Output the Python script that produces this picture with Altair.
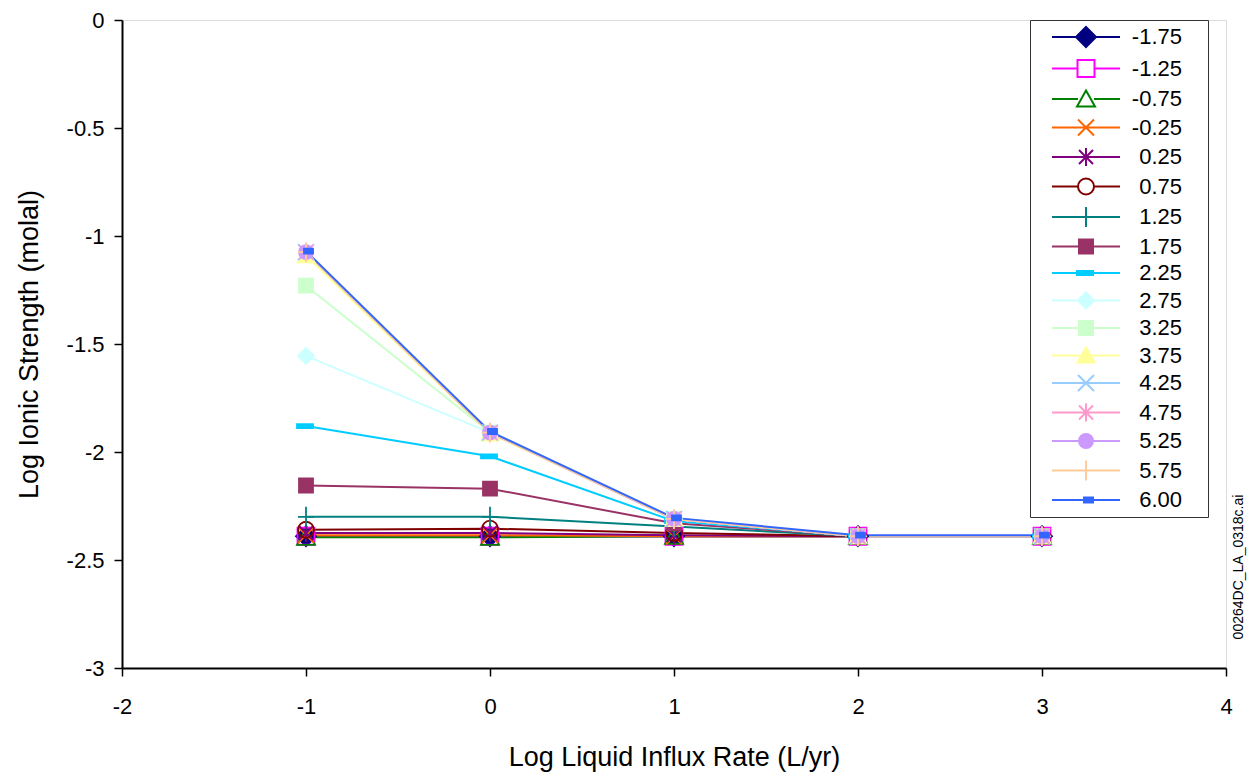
import altair as alt
import pandas as pd

# ---------------- data ----------------
x_values = [-1, 0, 1, 2, 3]
series = ["-1.75", "-1.25", "-0.75", "-0.25", "0.25", "0.75", "1.25", "1.75",
          "2.25", "2.75", "3.25", "3.75", "4.25", "4.75", "5.25", "5.75", "6.00"]

y_m175 = [-2.39, -2.39, -2.39, -2.39, -2.39]
y_m125 = [-2.39, -2.39, -2.39, -2.39, -2.39]
y_m075 = [-2.395, -2.395, -2.39, -2.39, -2.39]
y_m025 = [-2.385, -2.385, -2.39, -2.39, -2.39]
y_p025 = [-2.375, -2.375, -2.385, -2.39, -2.39]
y_p075 = [-2.36, -2.355, -2.375, -2.39, -2.39]
y_p125 = [-2.30, -2.30, -2.345, -2.39, -2.39]
y_p175 = [-2.155, -2.17, -2.33, -2.39, -2.39]
y_p225 = [-1.88, -2.02, -2.32, -2.39, -2.39]
y_p275 = [-1.555, -1.91, -2.31, -2.39, -2.39]
y_p325 = [-1.23, -1.91, -2.31, -2.39, -2.39]
y_p375 = [-1.09, -1.915, -2.31, -2.39, -2.39]
y_p425 = [-1.075, -1.91, -2.31, -2.39, -2.39]
y_p475 = [-1.075, -1.91, -2.31, -2.39, -2.39]
y_p525 = [-1.075, -1.91, -2.31, -2.39, -2.39]
y_p575 = [-1.075, -1.91, -2.31, -2.39, -2.39]
y_p600 = [-1.07, -1.905, -2.305, -2.385, -2.385]

all_y = [y_m175, y_m125, y_m075, y_m025, y_p025, y_p075, y_p125, y_p175, y_p225,
         y_p275, y_p325, y_p375, y_p425, y_p475, y_p525, y_p575, y_p600]

x_ticks = [-2, -1, 0, 1, 2, 3, 4]
y_ticks = [-3, -2.5, -2, -1.5, -1, -0.5, 0]
note_text = ["00264DC_LA_0318c.ai"]

# ---------------- styles ----------------
colors = ["#000080", "#FF00FF", "#008000", "#FF6600", "#800080", "#800000", "#008080",
          "#993366", "#00CCFF", "#CCFFFF", "#CCFFCC", "#FFFF99", "#99CCFF", "#FF99CC",
          "#CC99FF", "#FFCC99", "#3366FF"]


def sq(h):
    return f"M{-h},{-h}H{h}V{h}H{-h}Z"


def diamond(h):
    return f"M0,{-h}L{h},0L0,{h}L{-h},0Z"


def tri(w, top, bot):
    return f"M0,{-top}L{w},{bot}H{-w}Z"


def xmark(h):
    return f"M{-h},{-h}L{h},{h}M{-h},{h}L{h},{-h}"


def aster(h, v):
    return xmark(h) + f"M0,{-v}V{v}"


def circ(r):
    return f"M{-r},0A{r},{r},0,1,0,{r},0A{r},{r},0,1,0,{-r},0Z"


def plus(v, hh):
    return f"M0,{-v}V{v}M{-hh},0H{hh}"


def dash(x1, x2, h):
    return f"M{x1},{-h}H{x2}V{h}H{x1}Z"


# (marker path in px, open?, legend line gap)
markers = [
    (diamond(10), False, 0),
    (sq(8.5), True, 8.5),
    (tri(9, 8.5, 7.5), True, 8),
    (xmark(8), False, 0),
    (aster(7, 9), False, 0),
    (circ(8), True, 8),
    (plus(10, 8), False, 0),
    (sq(7), False, 0),
    (dash(-9, 7, 2), False, 0),
    (diamond(8), False, 0),
    (sq(7), False, 0),
    (tri(8.5, 8, 7), False, 0),
    (xmark(8), False, 0),
    (aster(7, 9), False, 0),
    (circ(7), False, 0),
    (plus(10, 8), False, 0),
    (dash(-2, 7, 2.5), False, 0),
]

plot_paths = [m[0] for m in markers]
plot_fills = ["transparent" if m[1] else c for m, c in zip(markers, colors)]
legend_fills = ["white" if m[1] else c for m, c in zip(markers, colors)]

EXT = 112


def legend_path(m):
    path, is_open, gap = m
    line = f"M-34,0H{-gap}M{gap},0H34" if gap else "M-34,0H34"
    return line + path + f"M{EXT},0"


legend_paths = [legend_path(m) for m in markers]

rows = []
for i, (s, ys) in enumerate(zip(series, all_y)):
    for xv, yv in zip(x_values, ys):
        rows.append({"series": s, "idx": i, "x": xv, "y": yv})
df = pd.DataFrame(rows)

FONT = "Liberation Sans"
W, H = 1104, 648

x_enc = alt.X("x:Q", scale=alt.Scale(domain=[-2, 4], nice=False),
              axis=alt.Axis(values=x_ticks, labelExpr="'' + datum.value", title="Log Liquid Influx Rate (L/yr)",
                            tickSize=8, tickWidth=1.5, tickColor="black", domainColor="black", domainWidth=2,
                            labelFontSize=22, labelPadding=20, labelColor="black", labelFlush=False,
                            labelOverlap=False, titleFontSize=27, titlePadding=27, titleFontWeight="normal",
                            titleColor="black", grid=False, labelFont=FONT, titleFont=FONT))
y_enc = alt.Y("y:Q", scale=alt.Scale(domain=[-3, 0], nice=False),
              axis=alt.Axis(values=y_ticks, labelExpr="'' + datum.value", title="Log Ionic Strength (molal)",
                            tickSize=8, tickWidth=1.5, tickColor="black", domainColor="black", domainWidth=2,
                            labelFontSize=22, labelPadding=10, labelColor="black", labelFlush=False,
                            labelOverlap=False, titleFontSize=27, titlePadding=23, titleFontWeight="normal",
                            titleColor="black", grid=False, labelFont=FONT, titleFont=FONT))

lines = alt.Chart(df).mark_line(strokeWidth=2).encode(
    x=x_enc, y=y_enc,
    stroke=alt.Stroke("series:N", scale=alt.Scale(domain=series, range=colors), legend=None),
)

points = alt.Chart(df).mark_point(filled=True, size=4, strokeWidth=1.8, opacity=1).encode(
    x="x:Q", y="y:Q",
    shape=alt.Shape("series:N", scale=alt.Scale(domain=series, range=plot_paths), legend=None),
    fill=alt.Fill("series:N", scale=alt.Scale(domain=series, range=plot_fills), legend=None),
    stroke=alt.Stroke("series:N", scale=alt.Scale(domain=series, range=colors), legend=None),
    order=alt.Order("idx:Q"),
)

leg = alt.Legend(title=None, orient="none", legendX=908, legendY=0, direction="vertical",
                 padding=6, rowPadding=4.5, symbolSize=4, symbolStrokeWidth=2, symbolOffset=39,
                 labelOffset=85, labelAlign="right", labelFontSize=22, labelFont=FONT,
                 labelColor="black", strokeColor="#333333", fillColor="white", symbolOpacity=1,
                 labelLimit=300)

legend_layer = alt.Chart(df).transform_filter("false").mark_point(filled=True, size=4, opacity=1).encode(
    shape=alt.Shape("series:N", scale=alt.Scale(domain=series, range=legend_paths), legend=leg),
    fill=alt.Fill("series:N", scale=alt.Scale(domain=series, range=legend_fills), legend=leg),
    stroke=alt.Stroke("series:N", scale=alt.Scale(domain=series, range=colors), legend=leg),
)

note = alt.Chart(pd.DataFrame({"label": note_text})).mark_text(
    angle=270, fontSize=14, font=FONT, color="black", align="center", baseline="middle"
).encode(text="label:N", x=alt.value(W + 13), y=alt.value(547))

chart = alt.layer(lines, points, legend_layer, note).resolve_scale(
    shape="independent", fill="independent", stroke="independent"
).properties(
    width=W, height=H,
    autosize=alt.AutoSizeParams(type="none"),
    padding={"left": 114, "top": 12, "right": 21, "bottom": 105},
).configure_view(stroke="black", strokeWidth=2).configure(font=FONT)

chart.save("out.html", embed_options={"renderer": "svg", "actions": False})
